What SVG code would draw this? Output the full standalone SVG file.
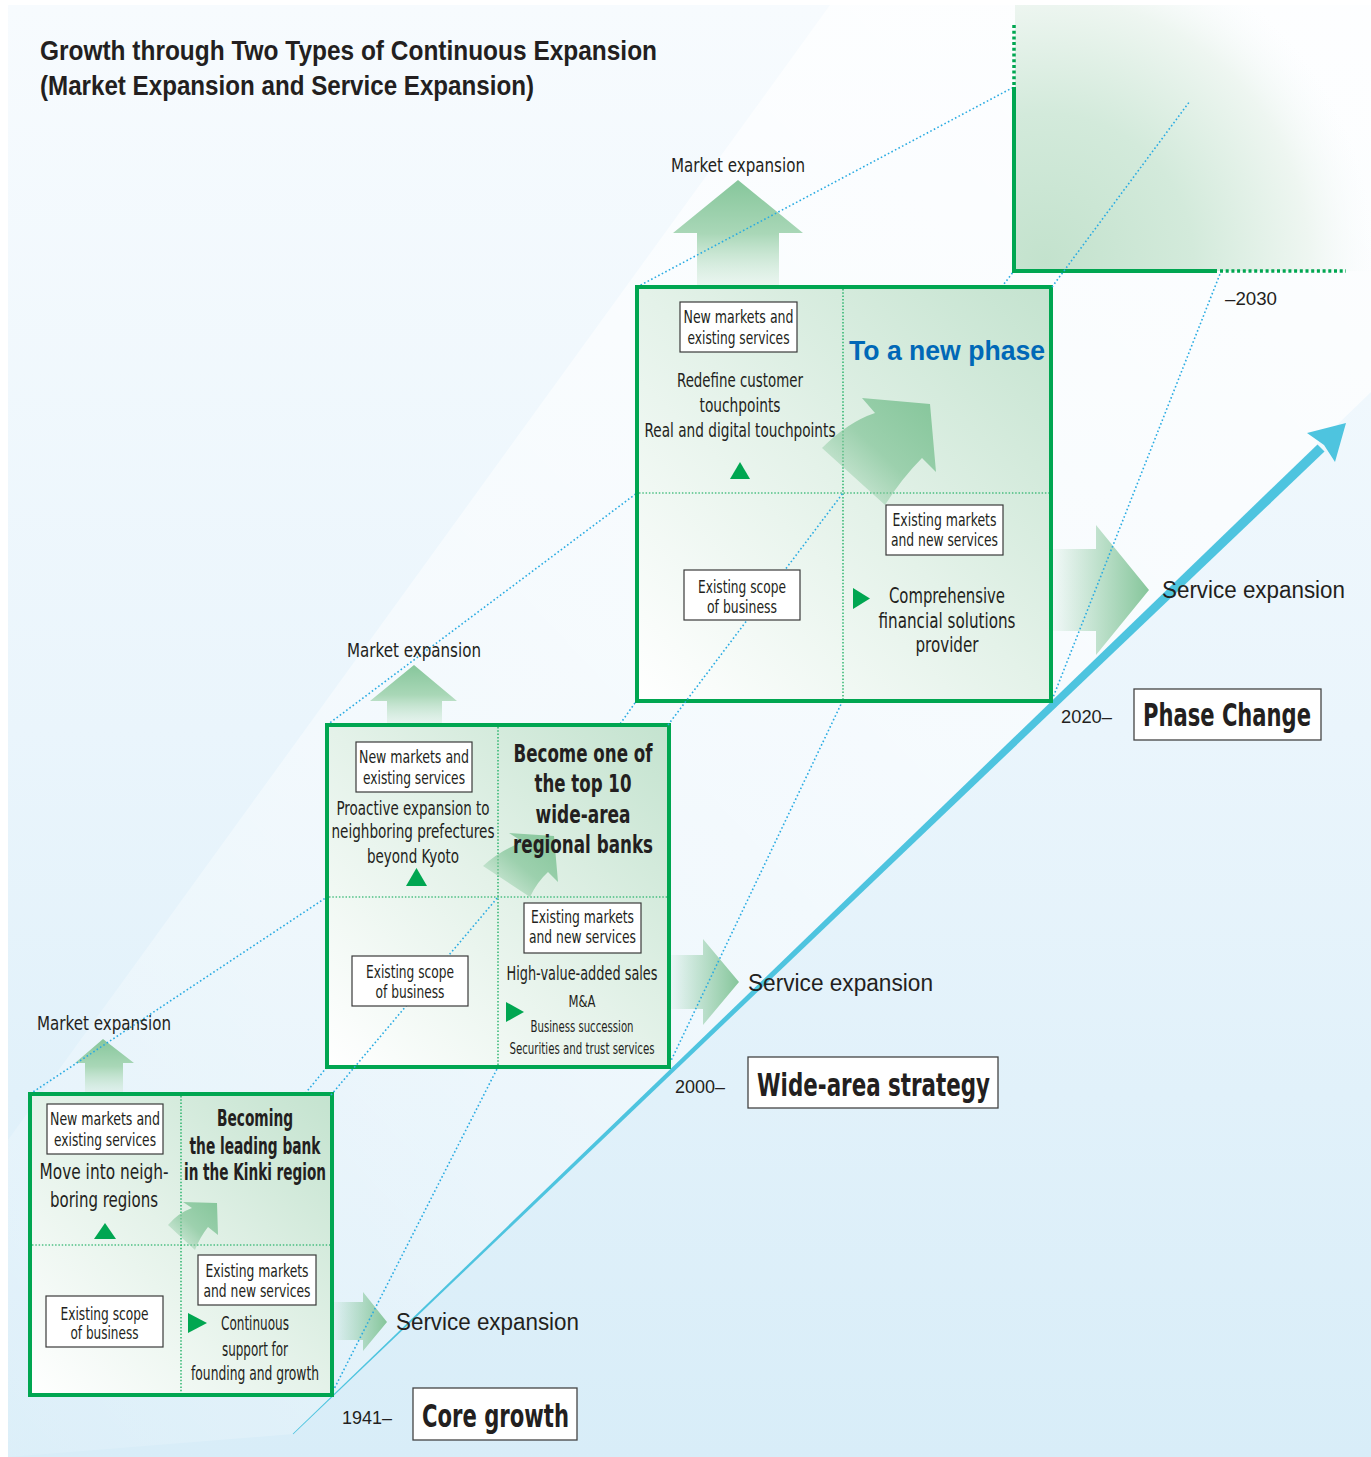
<svg xmlns="http://www.w3.org/2000/svg" width="1371" height="1457" viewBox="0 0 1371 1457">
<defs>
<linearGradient id="bg" x1="0" y1="0" x2="0" y2="1">
<stop offset="0" stop-color="#f7fbfe"/><stop offset="0.5" stop-color="#eaf5fc"/><stop offset="1" stop-color="#d8edf8"/>
</linearGradient>
<linearGradient id="wedge" x1="1" y1="0" x2="0" y2="1">
<stop offset="0" stop-color="#ffffff" stop-opacity="0.8"/><stop offset="0.6" stop-color="#ffffff" stop-opacity="0.45"/><stop offset="1" stop-color="#ffffff" stop-opacity="0.1"/>
</linearGradient>
<radialGradient id="future" gradientUnits="userSpaceOnUse" cx="1045" cy="262" r="330">
<stop offset="0" stop-color="#c3e2cd"/><stop offset="0.45" stop-color="#d3eadb"/><stop offset="0.8" stop-color="#eef6f1"/><stop offset="1" stop-color="#f7fbfc" stop-opacity="0"/>
</radialGradient>
<linearGradient id="mfill" x1="1" y1="0" x2="0" y2="1">
<stop offset="0" stop-color="#c4e3cf"/><stop offset="0.5" stop-color="#e4f2e9"/><stop offset="1" stop-color="#ffffff"/>
</linearGradient>
<linearGradient id="up" x1="0" y1="0" x2="0" y2="1">
<stop offset="0" stop-color="#86c69b"/><stop offset="0.5" stop-color="#a9d7b7"/><stop offset="1" stop-color="#d5ecdd" stop-opacity="0.4"/>
</linearGradient>
<linearGradient id="right" x1="0" y1="0" x2="1" y2="0">
<stop offset="0" stop-color="#86c69b" stop-opacity="0.05"/><stop offset="1" stop-color="#86c69b"/>
</linearGradient>
<linearGradient id="curve" x1="0" y1="1" x2="1" y2="0">
<stop offset="0" stop-color="#86c69b" stop-opacity="0"/><stop offset="0.5" stop-color="#86c69b" stop-opacity="0.75"/><stop offset="1" stop-color="#86c69b"/>
</linearGradient>
<style>
.t{font-family:"Liberation Sans Narrow","DejaVu Sans Condensed","Liberation Sans",sans-serif;fill:#231f20}
.r{font-family:"Liberation Sans","Open Sans",sans-serif;fill:#231f20}
.b{font-weight:bold}
.box{fill:#ffffff;stroke:#3a3a3a;stroke-width:1.2}
.pbox{fill:#ffffff;stroke:#444444;stroke-width:1.3}
.guide{stroke:#29abe2;stroke-width:1.6;stroke-dasharray:1.6 2.4;fill:none}
.div{stroke:#00a651;stroke-width:1.2;stroke-dasharray:1.5 1.8;fill:none}
.frame{fill:url(#mfill);stroke:#00a651;stroke-width:4}
.tri{fill:#00a651}
.upa{fill:url(#up)}
.ra{fill:url(#right)}
.ca{fill:url(#curve)}
</style>
</defs>

<g id="background">
<rect x="8" y="5" width="1363" height="1452" fill="url(#bg)"/>
<polygon points="830,5 1371,5 1371,392 293,1434 8,1457 8,1140" fill="url(#wedge)"/>
<rect x="1015" y="5" width="356" height="266" fill="url(#future)"/>
</g>

<g id="title">
<text class="r b" x="40" y="60" font-size="27" textLength="617" lengthAdjust="spacingAndGlyphs">Growth through Two Types of Continuous Expansion</text>
<text class="r b" x="40" y="95" font-size="27" textLength="494" lengthAdjust="spacingAndGlyphs">(Market Expansion and Service Expansion)</text>
</g>

<g id="expansion-arrows">
<polygon class="upa" points="738,180 803,233 779,233 779,287 697,287 697,233 673,233"/>
<polygon class="upa" points="414,665 457,701 442,701 442,725 387,725 387,701 370,701"/>
<polygon class="upa" points="103,1039 134,1063 123,1063 123,1094 85,1094 85,1063 75,1063"/>
<polygon class="ra" points="1052,549 1096,549 1096,525 1149,590 1096,655 1096,631 1052,631"/>
<polygon class="ra" points="670,955 703,955 703,939 739,982 703,1025 703,1009 670,1009"/>
<polygon class="ra" points="333,1302 363,1302 363,1292 387,1322 363,1351 363,1340 333,1340"/>
</g>

<g id="connectors">
<line class="guide" x1="30" y1="1094" x2="327" y2="897"/>
<line class="guide" x1="181" y1="1245" x2="327" y2="1067"/>
<line class="guide" x1="331" y1="1395" x2="498" y2="1067"/>
<line class="guide" x1="327" y1="725" x2="637" y2="493"/>
<line class="guide" x1="498" y1="897" x2="637" y2="700"/>
<line class="guide" x1="668" y1="1067" x2="843" y2="700"/>
<line class="guide" x1="637" y1="287" x2="1012" y2="88"/>
<line class="guide" x1="843" y1="493" x2="1014" y2="271"/>
<line class="guide" x1="1052" y1="700" x2="1220" y2="274"/>
<polygon points="292.7,1433.7 1317.5,444.4 1324.5,451.6 293.3,1434.3" fill="#4ec4df"/>
<polygon points="1346,423 1307,433 1324,445 1335,462" fill="#4ec4df"/>
</g>

<g id="future-box">
<line x1="1014" y1="87" x2="1014" y2="273" stroke="#00a651" stroke-width="4"/>
<line x1="1014" y1="25" x2="1014" y2="85" stroke="#00a651" stroke-width="3.5" stroke-dasharray="3 2.7"/>
<line x1="1012" y1="271" x2="1217" y2="271" stroke="#00a651" stroke-width="4"/>
<line x1="1220" y1="271" x2="1346" y2="271" stroke="#00a651" stroke-width="3.5" stroke-dasharray="3 2.7"/>
<text class="r" x="1225" y="305" font-size="18" textLength="52" lengthAdjust="spacingAndGlyphs">–2030</text>
</g>

<g id="matrix-core">
<rect class="frame" x="30" y="1094" width="302" height="301"/>
<line class="div" x1="181" y1="1096" x2="181" y2="1393"/>
<line class="div" x1="32" y1="1245" x2="330" y2="1245"/>
<path class="ca" d="M168,1225 Q178,1213 192,1208 L183,1202 L217,1203 L218,1235 L208,1227 Q200,1237 195,1250 Z"/>
</g>

<g id="matrix-wide">
<rect class="frame" x="327" y="725" width="342" height="342"/>
<line class="div" x1="498" y1="727" x2="498" y2="1065"/>
<line class="div" x1="329" y1="897" x2="667" y2="897"/>
<path class="ca" d="M483,866 Q500,850 523,842 L509,833 L554,836 L558,882 L548,872 Q537,882 530,897 Z"/>
</g>

<g id="matrix-phase">
<rect class="frame" x="637" y="287" width="414" height="414"/>
<line class="div" x1="843" y1="289" x2="843" y2="699"/>
<line class="div" x1="639" y1="493" x2="1049" y2="493"/>
<path class="ca" d="M822,448 Q848,422 875,413 L862,398 L930,404 L936,472 L922,458 Q902,478 885,505 Z"/>
</g>

<g id="connectors-front">
<line class="guide" x1="331" y1="1095" x2="498" y2="897"/>
<line class="guide" x1="668" y1="725" x2="843" y2="493"/>
<line class="guide" x1="1052" y1="287" x2="1190" y2="101"/>
</g>

<g id="core-labels">
<text class="t" x="104" y="1030" font-size="20" text-anchor="middle" textLength="134" lengthAdjust="spacingAndGlyphs">Market expansion</text>
<rect class="box" x="47" y="1104" width="116" height="50"/>
<text class="t" x="105" y="1125" font-size="18" text-anchor="middle" textLength="110" lengthAdjust="spacingAndGlyphs">New markets and</text>
<text class="t" x="105" y="1146" font-size="18" text-anchor="middle" textLength="102" lengthAdjust="spacingAndGlyphs">existing services</text>
<text class="t" x="104" y="1179" font-size="21" text-anchor="middle" textLength="129" lengthAdjust="spacingAndGlyphs">Move into neigh-</text>
<text class="t" x="104" y="1207" font-size="21" text-anchor="middle" textLength="108" lengthAdjust="spacingAndGlyphs">boring regions</text>
<polygon class="tri" points="94,1239 116,1239 105,1223"/>
<text class="t b" x="255" y="1126" font-size="23" text-anchor="middle" textLength="76" lengthAdjust="spacingAndGlyphs">Becoming</text>
<text class="t b" x="255" y="1154" font-size="23" text-anchor="middle" textLength="131" lengthAdjust="spacingAndGlyphs">the leading bank</text>
<text class="t b" x="255" y="1180" font-size="23" text-anchor="middle" textLength="142" lengthAdjust="spacingAndGlyphs">in the Kinki region</text>
<rect class="box" x="198" y="1255" width="118" height="50"/>
<text class="t" x="257" y="1277" font-size="18" text-anchor="middle" textLength="103" lengthAdjust="spacingAndGlyphs">Existing markets</text>
<text class="t" x="257" y="1297" font-size="18" text-anchor="middle" textLength="107" lengthAdjust="spacingAndGlyphs">and new services</text>
<polygon class="tri" points="188,1313 188,1333 207,1323"/>
<text class="t" x="255" y="1330" font-size="19" text-anchor="middle" textLength="68" lengthAdjust="spacingAndGlyphs">Continuous</text>
<text class="t" x="255" y="1356" font-size="19" text-anchor="middle" textLength="66" lengthAdjust="spacingAndGlyphs">support for</text>
<text class="t" x="255" y="1380" font-size="19" text-anchor="middle" textLength="128" lengthAdjust="spacingAndGlyphs">founding and growth</text>
<rect class="box" x="46" y="1296" width="117" height="51"/>
<text class="t" x="104.5" y="1320" font-size="18" text-anchor="middle" textLength="88" lengthAdjust="spacingAndGlyphs">Existing scope</text>
<text class="t" x="104.5" y="1339" font-size="18" text-anchor="middle" textLength="68" lengthAdjust="spacingAndGlyphs">of business</text>
<text class="r" x="396" y="1330" font-size="23" textLength="183" lengthAdjust="spacingAndGlyphs">Service expansion</text>
<text class="r" x="342" y="1424" font-size="18" textLength="50" lengthAdjust="spacingAndGlyphs">1941–</text>
<rect class="pbox" x="413" y="1388" width="164" height="52"/>
<text class="t b" x="422" y="1427" font-size="32" textLength="147" lengthAdjust="spacingAndGlyphs">Core growth</text>
</g>

<g id="wide-labels">
<text class="t" x="414" y="657" font-size="20" text-anchor="middle" textLength="134" lengthAdjust="spacingAndGlyphs">Market expansion</text>
<rect class="box" x="356" y="742" width="116" height="50"/>
<text class="t" x="414" y="763" font-size="18" text-anchor="middle" textLength="110" lengthAdjust="spacingAndGlyphs">New markets and</text>
<text class="t" x="414" y="784" font-size="18" text-anchor="middle" textLength="102" lengthAdjust="spacingAndGlyphs">existing services</text>
<text class="t" x="413" y="815" font-size="20" text-anchor="middle" textLength="153" lengthAdjust="spacingAndGlyphs">Proactive expansion to</text>
<text class="t" x="413" y="838" font-size="20" text-anchor="middle" textLength="163" lengthAdjust="spacingAndGlyphs">neighboring prefectures</text>
<text class="t" x="413" y="863" font-size="20" text-anchor="middle" textLength="92" lengthAdjust="spacingAndGlyphs">beyond Kyoto</text>
<polygon class="tri" points="406,886 427,886 416.5,868"/>
<text class="t b" x="583" y="762" font-size="24" text-anchor="middle" textLength="139" lengthAdjust="spacingAndGlyphs">Become one of</text>
<text class="t b" x="583" y="792" font-size="24" text-anchor="middle" textLength="97" lengthAdjust="spacingAndGlyphs">the top 10</text>
<text class="t b" x="583" y="823" font-size="24" text-anchor="middle" textLength="95" lengthAdjust="spacingAndGlyphs">wide-area</text>
<text class="t b" x="583" y="853" font-size="24" text-anchor="middle" textLength="140" lengthAdjust="spacingAndGlyphs">regional banks</text>
<rect class="box" x="524" y="903" width="117" height="50"/>
<text class="t" x="582.5" y="923" font-size="18" text-anchor="middle" textLength="103" lengthAdjust="spacingAndGlyphs">Existing markets</text>
<text class="t" x="582.5" y="943" font-size="18" text-anchor="middle" textLength="107" lengthAdjust="spacingAndGlyphs">and new services</text>
<text class="t" x="582" y="980" font-size="20" text-anchor="middle" textLength="151" lengthAdjust="spacingAndGlyphs">High-value-added sales</text>
<polygon class="tri" points="506,1002 506,1022 524,1012"/>
<text class="t" x="582" y="1007" font-size="16" text-anchor="middle" textLength="27" lengthAdjust="spacingAndGlyphs">M&amp;A</text>
<text class="t" x="582" y="1032" font-size="16" text-anchor="middle" textLength="103" lengthAdjust="spacingAndGlyphs">Business succession</text>
<text class="t" x="582" y="1054" font-size="16" text-anchor="middle" textLength="145" lengthAdjust="spacingAndGlyphs">Securities and trust services</text>
<rect class="box" x="352" y="956" width="116" height="50"/>
<text class="t" x="410" y="978" font-size="18" text-anchor="middle" textLength="88" lengthAdjust="spacingAndGlyphs">Existing scope</text>
<text class="t" x="410" y="998" font-size="18" text-anchor="middle" textLength="69" lengthAdjust="spacingAndGlyphs">of business</text>
<text class="r" x="748" y="991" font-size="23" textLength="185" lengthAdjust="spacingAndGlyphs">Service expansion</text>
<text class="r" x="675" y="1093" font-size="18" textLength="50" lengthAdjust="spacingAndGlyphs">2000–</text>
<rect class="pbox" x="748" y="1057" width="250" height="51"/>
<text class="t b" x="757" y="1096" font-size="32" textLength="233" lengthAdjust="spacingAndGlyphs">Wide-area strategy</text>
</g>

<g id="phase-labels">
<text class="t" x="738" y="172" font-size="20" text-anchor="middle" textLength="134" lengthAdjust="spacingAndGlyphs">Market expansion</text>
<rect class="box" x="680" y="302" width="117" height="50"/>
<text class="t" x="738.5" y="323" font-size="18" text-anchor="middle" textLength="110" lengthAdjust="spacingAndGlyphs">New markets and</text>
<text class="t" x="738.5" y="344" font-size="18" text-anchor="middle" textLength="102" lengthAdjust="spacingAndGlyphs">existing services</text>
<text class="t" x="740" y="387" font-size="20" text-anchor="middle" textLength="126" lengthAdjust="spacingAndGlyphs">Redefine customer</text>
<text class="t" x="740" y="412" font-size="20" text-anchor="middle" textLength="81" lengthAdjust="spacingAndGlyphs">touchpoints</text>
<text class="t" x="740" y="437" font-size="20" text-anchor="middle" textLength="191" lengthAdjust="spacingAndGlyphs">Real and digital touchpoints</text>
<polygon class="tri" points="730,479 750,479 740,462"/>
<text class="r b" x="947" y="360" font-size="28" text-anchor="middle" fill="#0068b7" style="fill:#0068b7" textLength="196" lengthAdjust="spacingAndGlyphs">To a new phase</text>
<rect class="box" x="886" y="505" width="117" height="50"/>
<text class="t" x="944.5" y="526" font-size="18" text-anchor="middle" textLength="104" lengthAdjust="spacingAndGlyphs">Existing markets</text>
<text class="t" x="944.5" y="546" font-size="18" text-anchor="middle" textLength="107" lengthAdjust="spacingAndGlyphs">and new services</text>
<polygon class="tri" points="853,588 853,609 870,598.5"/>
<text class="t" x="947" y="603" font-size="21" text-anchor="middle" textLength="116" lengthAdjust="spacingAndGlyphs">Comprehensive</text>
<text class="t" x="947" y="628" font-size="21" text-anchor="middle" textLength="137" lengthAdjust="spacingAndGlyphs">financial solutions</text>
<text class="t" x="947" y="652" font-size="21" text-anchor="middle" textLength="63" lengthAdjust="spacingAndGlyphs">provider</text>
<rect class="box" x="684" y="570" width="116" height="50"/>
<text class="t" x="742" y="593" font-size="18" text-anchor="middle" textLength="88" lengthAdjust="spacingAndGlyphs">Existing scope</text>
<text class="t" x="742" y="613" font-size="18" text-anchor="middle" textLength="70" lengthAdjust="spacingAndGlyphs">of business</text>
<text class="r" x="1162" y="598" font-size="23" textLength="183" lengthAdjust="spacingAndGlyphs">Service expansion</text>
<text class="r" x="1061" y="723" font-size="18" textLength="51" lengthAdjust="spacingAndGlyphs">2020–</text>
<rect class="pbox" x="1134" y="689" width="187" height="51"/>
<text class="t b" x="1143" y="726" font-size="32" textLength="168" lengthAdjust="spacingAndGlyphs">Phase Change</text>
</g>
</svg>
